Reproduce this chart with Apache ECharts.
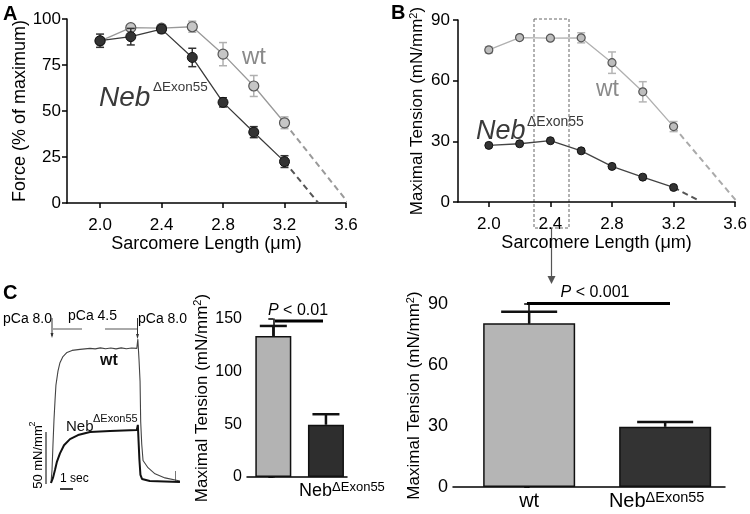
<!DOCTYPE html>
<html>
<head>
<meta charset="utf-8">
<script src="https://cdn.jsdelivr.net/npm/echarts@6/dist/echarts.min.js"></script>
<style>html,body{margin:0;padding:0;background:#fff}#c{width:750px;height:514px}</style>
</head>
<body>
<div id="c"></div>
<script>
// ---------- data ----------
const slX = [2.0, 2.2, 2.4, 2.6, 2.8, 3.0, 3.2];
const slTicks = [2.0, 2.4, 2.8, 3.2, 3.6];
// Panel A: force (% of maximum)
const aWt = [88, 95.3, 95, 95.8, 80.9, 63.6, 43.6];
const aWtErr = [0, 0, 0, 3, 6.3, 5.7, 3.2];
const aNeb = [88.2, 90.4, 94.5, 79.1, 54.7, 38.5, 22.5];
const aNebErr = [3.6, 4.5, 2, 5, 2.5, 3, 3.2];
const aWtExt = [[3.2, 43.6], [3.615, 0]];
const aNebExt = [[3.2, 22.5], [3.42, 0]];
// Panel B: maximal tension (mN/mm2)
const bWt = [75.2, 81.3, 81.0, 81.2, 68.9, 54.5, 37.3];
const bWtErr = [1.5, 1, 1, 2.5, 5.3, 5, 2.5];
const bNeb = [28.0, 28.8, 30.3, 25.3, 17.6, 12.3, 7.2];
const bNebErr = [1, 0.8, 1, 1, 1, 1, 0.8];
const bWtExt = [[3.2, 37.3], [3.61, 0.3]];
const bNebExt = [[3.2, 7.2], [3.37, 0.5]];
// Panel C traces: [time (s), tension (mN/mm2)]
const wtTrace = [[0,0],[0.08,13],[0.15,37],[0.23,62],[0.31,81],[0.38,96],[0.54,110],[0.69,118],[0.92,124],[1.23,128],[1.62,130],[2.23,131],[3.0,132],[3.4,131.5],[3.8,132.5],[4.2,131.6],[4.6,132.4],[5.0,131.5],[5.4,132.5],[5.8,131.6],[6.2,132.4],[6.6,132],[6.68,141],[6.77,121],[6.85,100],[6.9,60],[6.98,38],[7.08,22],[7.46,15],[8.0,9],[8.77,5],[9.92,2]];
const nebTrace = [[0,0],[0.15,5],[0.31,13],[0.46,21],[0.69,29],[1.0,37],[1.46,43],[2.08,47],[3.0,50],[4.54,51],[6.6,52],[6.68,57],[6.8,23],[6.88,8],[7.0,4],[7.6,2],[9.92,1]];
// Panel C bars and right bars
const barCats = ['wt', 'Neb'];
const cBar = [133.9, 49.6];
const cBarErr = [9.5, 10];
const dBar = [80.5, 29.6];
const dBarErr = [5.7, 2.4];

// ---------- helpers ----------
const FF = 'Liberation Sans, Arial, Helvetica, sans-serif';
const zip = (xs, ys) => xs.map((x, i) => [x, ys[i]]);
const zip3 = (xs, ys, es) => xs.map((x, i) => [x, ys[i], es[i]]);

function errBars(color, capW, lw, upOnly) {
  return function (params, api) {
    const x = api.value(0), y = api.value(1), e = api.value(2);
    if (!e) return null;
    const pTop = api.coord([x, y + e]);
    const pMid = api.coord([x, y]);
    const pBot = upOnly ? pMid : api.coord([x, y - e]);
    const st = { stroke: color, lineWidth: lw };
    const ch = [
      { type: 'line', shape: { x1: pTop[0], y1: pTop[1], x2: pBot[0], y2: pBot[1] }, style: st },
      { type: 'line', shape: { x1: pTop[0] - capW / 2, y1: pTop[1], x2: pTop[0] + capW / 2, y2: pTop[1] }, style: st }
    ];
    if (!upOnly) ch.push({ type: 'line', shape: { x1: pBot[0] - capW / 2, y1: pBot[1], x2: pBot[0] + capW / 2, y2: pBot[1] }, style: st });
    return { type: 'group', children: ch };
  };
}

const axLine = { lineStyle: { color: '#000', width: 1.5 } };
const axTick = { show: true, length: 5, lineStyle: { color: '#000', width: 1.5 } };

function slXAxis(gi, min, max) {
  return {
    type: 'value', gridIndex: gi, min: min, max: max,
    axisLine: axLine, splitLine: { show: false },
    axisTick: Object.assign({ customValues: slTicks }, axTick),
    axisLabel: { customValues: slTicks, formatter: v => v.toFixed(1), color: '#000', fontSize: 17, fontFamily: FF, margin: 14 },
    name: 'Sarcomere Length (\u03bcm)', nameLocation: 'middle', nameGap: 27,
    nameTextStyle: { color: '#000', fontSize: 18, fontFamily: FF }
  };
}

function tensionName(gap) {
  return {
    name: 'Maximal Tension (mN/mm{s|2})', nameLocation: 'middle', nameGap: gap,
    nameTextStyle: { color: '#000', fontSize: 17, fontFamily: FF, lineHeight: 19,
      rich: { s: { fontSize: 11, verticalAlign: 'top', lineHeight: 11, fontFamily: FF, color: '#000' } } }
  };
}

const yLine = { show: true, lineStyle: { color: '#000', width: 1.5 } };

const option = {
  animation: false,
  textStyle: { fontFamily: FF },
  grid: [
    { left: 67, top: 19, width: 279, height: 184 },
    { left: 458, top: 20, width: 282, height: 182 },
    { left: 51, top: 330, width: 130, height: 153 },
    { left: 247, top: 319, width: 100, height: 158 },
    { left: 453, top: 304, width: 272, height: 183 }
  ],
  xAxis: [
    slXAxis(0, 1.785, 3.6),
    slXAxis(1, 1.8, 3.6),
    { type: 'value', gridIndex: 2, min: 0, max: 10, show: false },
    {
      type: 'value', gridIndex: 3, min: -0.5, max: 1.4,
      axisLine: axLine, axisTick: { show: false }, splitLine: { show: false },
      axisLabel: {
        customValues: [0, 1], formatter: v => v === 0 ? 'wt' : '{n|Neb}{s|\u0394Exon55}',
        color: '#000', fontSize: 18, fontFamily: FF, margin: 4, lineHeight: 20,
        rich: {
          n: { fontSize: 18, fontFamily: FF, color: '#000', padding: [0, 0, 0, 32], lineHeight: 20 },
          s: { fontSize: 13, verticalAlign: 'top', lineHeight: 13, fontFamily: FF, color: '#000' }
        }
      }
    },
    {
      type: 'value', gridIndex: 4, min: -0.56, max: 1.44,
      axisLine: axLine, axisTick: { show: false }, splitLine: { show: false },
      axisLabel: {
        customValues: [0, 1], formatter: v => v === 0 ? 'wt' : '{n|Neb}{s|\u0394Exon55}',
        color: '#000', fontSize: 20, fontFamily: FF, margin: 3, lineHeight: 22,
        rich: {
          n: { fontSize: 20, fontFamily: FF, color: '#000', lineHeight: 22 },
          s: { fontSize: 14.5, verticalAlign: 'top', lineHeight: 14, fontFamily: FF, color: '#000', padding: [0, 17, 0, 0] }
        }
      }
    }
  ],
  yAxis: [
    {
      type: 'value', gridIndex: 0, min: 0, max: 100, interval: 25,
      axisLine: yLine, axisTick: axTick, splitLine: { show: false },
      axisLabel: { color: '#000', fontSize: 17, fontFamily: FF, margin: 6 },
      name: 'Force (% of maximum)', nameLocation: 'middle', nameGap: 31,
      nameTextStyle: { color: '#000', fontSize: 18, fontFamily: FF }
    },
    Object.assign({
      type: 'value', gridIndex: 1, min: 0, max: 90, interval: 30,
      axisLine: yLine, axisTick: axTick, splitLine: { show: false },
      axisLabel: { color: '#000', fontSize: 17, fontFamily: FF, margin: 8 }
    }, tensionName(29)),
    { type: 'value', gridIndex: 2, min: 0, max: 150, show: false },
    Object.assign({
      type: 'value', gridIndex: 3, min: 0, max: 150, interval: 50,
      axisLine: yLine, axisTick: axTick, splitLine: { show: false },
      axisLabel: { color: '#000', fontSize: 16, fontFamily: FF, margin: 5 }
    }, tensionName(32)),
    Object.assign({
      type: 'value', gridIndex: 4, min: 0, max: 90, interval: 30,
      axisLine: yLine, axisTick: axTick, splitLine: { show: false },
      axisLabel: { color: '#000', fontSize: 18, fontFamily: FF, margin: 5 }
    }, tensionName(26))
  ],
  series: [
    // Panel A
    { type: 'line', xAxisIndex: 0, yAxisIndex: 0, data: aWtExt, symbol: 'none', lineStyle: { color: '#9a9a9a', width: 2, type: [6, 4] }, z: 1 },
    { type: 'line', xAxisIndex: 0, yAxisIndex: 0, data: aNebExt, symbol: 'none', lineStyle: { color: '#555', width: 2, type: [6, 4] }, z: 1 },
    { type: 'custom', xAxisIndex: 0, yAxisIndex: 0, data: zip3(slX, aWt, aWtErr), renderItem: errBars('#b0b0b0', 8, 1.5, false), z: 2 },
    { type: 'line', xAxisIndex: 0, yAxisIndex: 0, data: zip(slX, aWt), symbol: 'circle', symbolSize: 10,
      lineStyle: { color: '#999', width: 1.3 }, itemStyle: { color: '#c6c6c6', borderColor: '#555', borderWidth: 1.2 }, z: 3 },
    { type: 'custom', xAxisIndex: 0, yAxisIndex: 0, data: zip3(slX, aNeb, aNebErr), renderItem: errBars('#333', 8, 1.5, false), z: 4 },
    { type: 'line', xAxisIndex: 0, yAxisIndex: 0, data: zip(slX, aNeb), symbol: 'circle', symbolSize: 10,
      lineStyle: { color: '#3a3a3a', width: 1.3 }, itemStyle: { color: '#333', borderColor: '#111', borderWidth: 1 }, z: 5 },
    // Panel B
    { type: 'line', xAxisIndex: 1, yAxisIndex: 1, data: bWtExt, symbol: 'none', lineStyle: { color: '#aaa', width: 2, type: [6, 4] }, z: 1 },
    { type: 'line', xAxisIndex: 1, yAxisIndex: 1, data: bNebExt, symbol: 'none', lineStyle: { color: '#555', width: 2, type: [6, 4] }, z: 1 },
    { type: 'custom', xAxisIndex: 1, yAxisIndex: 1, data: zip3(slX, bWt, bWtErr), renderItem: errBars('#b5b5b5', 8, 1.5, false), z: 2 },
    { type: 'line', xAxisIndex: 1, yAxisIndex: 1, data: zip(slX, bWt), symbol: 'circle', symbolSize: 8,
      lineStyle: { color: '#b0b0b0', width: 1.3 }, itemStyle: { color: '#bdbdbd', borderColor: '#555', borderWidth: 1.2 }, z: 3 },
    { type: 'custom', xAxisIndex: 1, yAxisIndex: 1, data: zip3(slX, bNeb, bNebErr), renderItem: errBars('#333', 6, 1.2, false), z: 4 },
    { type: 'line', xAxisIndex: 1, yAxisIndex: 1, data: zip(slX, bNeb), symbol: 'circle', symbolSize: 8,
      lineStyle: { color: '#444', width: 1.3 }, itemStyle: { color: '#333', borderColor: '#111', borderWidth: 1 }, z: 5 },
    // Panel C traces
    { type: 'line', xAxisIndex: 2, yAxisIndex: 2, data: wtTrace, symbol: 'none', lineStyle: { color: '#444', width: 1.1 }, z: 3 },
    { type: 'line', xAxisIndex: 2, yAxisIndex: 2, data: nebTrace, symbol: 'none', lineStyle: { color: '#111', width: 2 }, z: 4 },
    // Panel C bars
    { type: 'custom', xAxisIndex: 3, yAxisIndex: 3, data: zip3([0, 1], cBar, cBarErr), renderItem: errBars('#111', 27, 2.5, true), z: 1 },
    { type: 'bar', xAxisIndex: 3, yAxisIndex: 3, barWidth: 36,
      data: cBar.map((v, i) => ({ name: barCats[i], value: [i, v], itemStyle: { color: i === 0 ? '#b3b3b3' : '#2e2e2e', borderColor: '#111', borderWidth: 1.5 } })), z: 2 },
    // Right bars
    { type: 'custom', xAxisIndex: 4, yAxisIndex: 4, data: zip3([0, 1], dBar, dBarErr), renderItem: errBars('#111', 56, 2.5, true), z: 1 },
    { type: 'bar', xAxisIndex: 4, yAxisIndex: 4, barWidth: 92,
      data: dBar.map((v, i) => ({ name: barCats[i], value: [i, v], itemStyle: { color: i === 0 ? '#b5b5b5' : '#333', borderColor: '#111', borderWidth: 1.5 } })), z: 2 }
  ],
  graphic: [
    // panel letters
    { type: 'text', x: 3, y: 4, style: { text: 'A', font: 'bold 20px ' + FF, fill: '#000' } },
    { type: 'text', x: 391, y: 3, style: { text: 'B', font: 'bold 20px ' + FF, fill: '#000' } },
    { type: 'text', x: 3, y: 283, style: { text: 'C', font: 'bold 20px ' + FF, fill: '#000' } },
    // A labels
    { type: 'text', x: 242, y: 57, style: { text: 'wt', font: '24px ' + FF, fill: '#8a8a8a', verticalAlign: 'middle' } },
    { type: 'text', x: 99, y: 98, style: { text: 'Neb', font: 'italic 28px ' + FF, fill: '#3a3a3a', verticalAlign: 'middle' } },
    { type: 'text', x: 153, y: 87, style: { text: '\u0394Exon55', font: '13.5px ' + FF, fill: '#3a3a3a', verticalAlign: 'middle' } },
    // B labels
    { type: 'text', x: 596, y: 90, style: { text: 'wt', font: '23px ' + FF, fill: '#8a8a8a', verticalAlign: 'middle' } },
    { type: 'text', x: 476, y: 131, style: { text: 'Neb', font: 'italic 27px ' + FF, fill: '#3a3a3a', verticalAlign: 'middle' } },
    { type: 'text', x: 527, y: 122, style: { text: '\u0394Exon55', font: '14px ' + FF, fill: '#3a3a3a', verticalAlign: 'middle' } },
    // B dotted box and arrow
    { type: 'rect', shape: { x: 534, y: 19, width: 35, height: 209 }, style: { fill: 'none', stroke: '#666', lineWidth: 1, lineDash: [3, 2] } },
    { type: 'line', shape: { x1: 551.5, y1: 228, x2: 551.5, y2: 277 }, style: { stroke: '#555', lineWidth: 1.2 } },
    { type: 'polygon', shape: { points: [[547.5, 276], [555.5, 276], [551.5, 284]] }, style: { fill: '#555' } },
    // Panel C annotations
    { type: 'text', x: 3, y: 319, style: { text: 'pCa 8.0', font: '14px ' + FF, fill: '#000', verticalAlign: 'middle' } },
    { type: 'text', x: 68, y: 316, style: { text: 'pCa 4.5', font: '14px ' + FF, fill: '#000', verticalAlign: 'middle' } },
    { type: 'text', x: 138, y: 319, style: { text: 'pCa 8.0', font: '14px ' + FF, fill: '#000', verticalAlign: 'middle' } },
    { type: 'line', shape: { x1: 52, y1: 318, x2: 52, y2: 336 }, style: { stroke: '#333', lineWidth: 1 } },
    { type: 'polygon', shape: { points: [[50.5, 333], [53.5, 333], [52, 338]] }, style: { fill: '#333' } },
    { type: 'line', shape: { x1: 53, y1: 329, x2: 82, y2: 329 }, style: { stroke: '#555', lineWidth: 1 } },
    { type: 'line', shape: { x1: 105, y1: 329, x2: 137, y2: 329 }, style: { stroke: '#555', lineWidth: 1 } },
    { type: 'line', shape: { x1: 137.5, y1: 318, x2: 137.5, y2: 337 }, style: { stroke: '#333', lineWidth: 1 } },
    { type: 'polygon', shape: { points: [[136, 334], [139, 334], [137.5, 339]] }, style: { fill: '#333' } },
    { type: 'text', x: 100, y: 361, style: { text: 'wt', font: 'bold 16px ' + FF, fill: '#111', verticalAlign: 'middle' } },
    { type: 'text', x: 66, y: 427, style: { text: 'Neb', font: '15px ' + FF, fill: '#111', verticalAlign: 'middle' } },
    { type: 'text', x: 93, y: 419, style: { text: '\u0394Exon55', font: '11px ' + FF, fill: '#111', verticalAlign: 'middle' } },
    { type: 'text', x: 38, y: 457, rotation: Math.PI / 2, style: { text: '50 mN/mm', font: '13px ' + FF, fill: '#000', align: 'center', verticalAlign: 'middle' } },
    { type: 'text', x: 33, y: 424, rotation: Math.PI / 2, style: { text: '2', font: '9px ' + FF, fill: '#000', align: 'center', verticalAlign: 'middle' } },
    { type: 'line', shape: { x1: 46, y1: 432, x2: 46, y2: 484 }, style: { stroke: '#000', lineWidth: 1 } },
    { type: 'text', x: 60, y: 479, style: { text: '1 sec', font: '12px ' + FF, fill: '#000', verticalAlign: 'middle' } },
    { type: 'line', shape: { x1: 60, y1: 489, x2: 73, y2: 489 }, style: { stroke: '#000', lineWidth: 1.5 } },
    { type: 'line', shape: { x1: 175.5, y1: 471, x2: 175.5, y2: 481 }, style: { stroke: '#777', lineWidth: 1 } },
    // significance
    { type: 'text', x: 298, y: 311, style: { text: '{i|P} < 0.01', font: '16px ' + FF, fill: '#000', align: 'center', verticalAlign: 'middle', rich: { i: { fontStyle: 'italic', fontSize: 16, fontFamily: FF } } } },
    { type: 'line', shape: { x1: 275, y1: 321, x2: 323, y2: 321 }, style: { stroke: '#000', lineWidth: 3 } },
    { type: 'text', x: 595, y: 293, style: { text: '{i|P} < 0.001', font: '16px ' + FF, fill: '#000', align: 'center', verticalAlign: 'middle', rich: { i: { fontStyle: 'italic', fontSize: 16, fontFamily: FF } } } },
    { type: 'line', shape: { x1: 527, y1: 303.5, x2: 670, y2: 303.5 }, style: { stroke: '#000', lineWidth: 3 } }
  ]
};

const chart = echarts.init(document.getElementById('c'), null, { renderer: 'canvas' });
chart.setOption(option);
</script>
</body>
</html>
